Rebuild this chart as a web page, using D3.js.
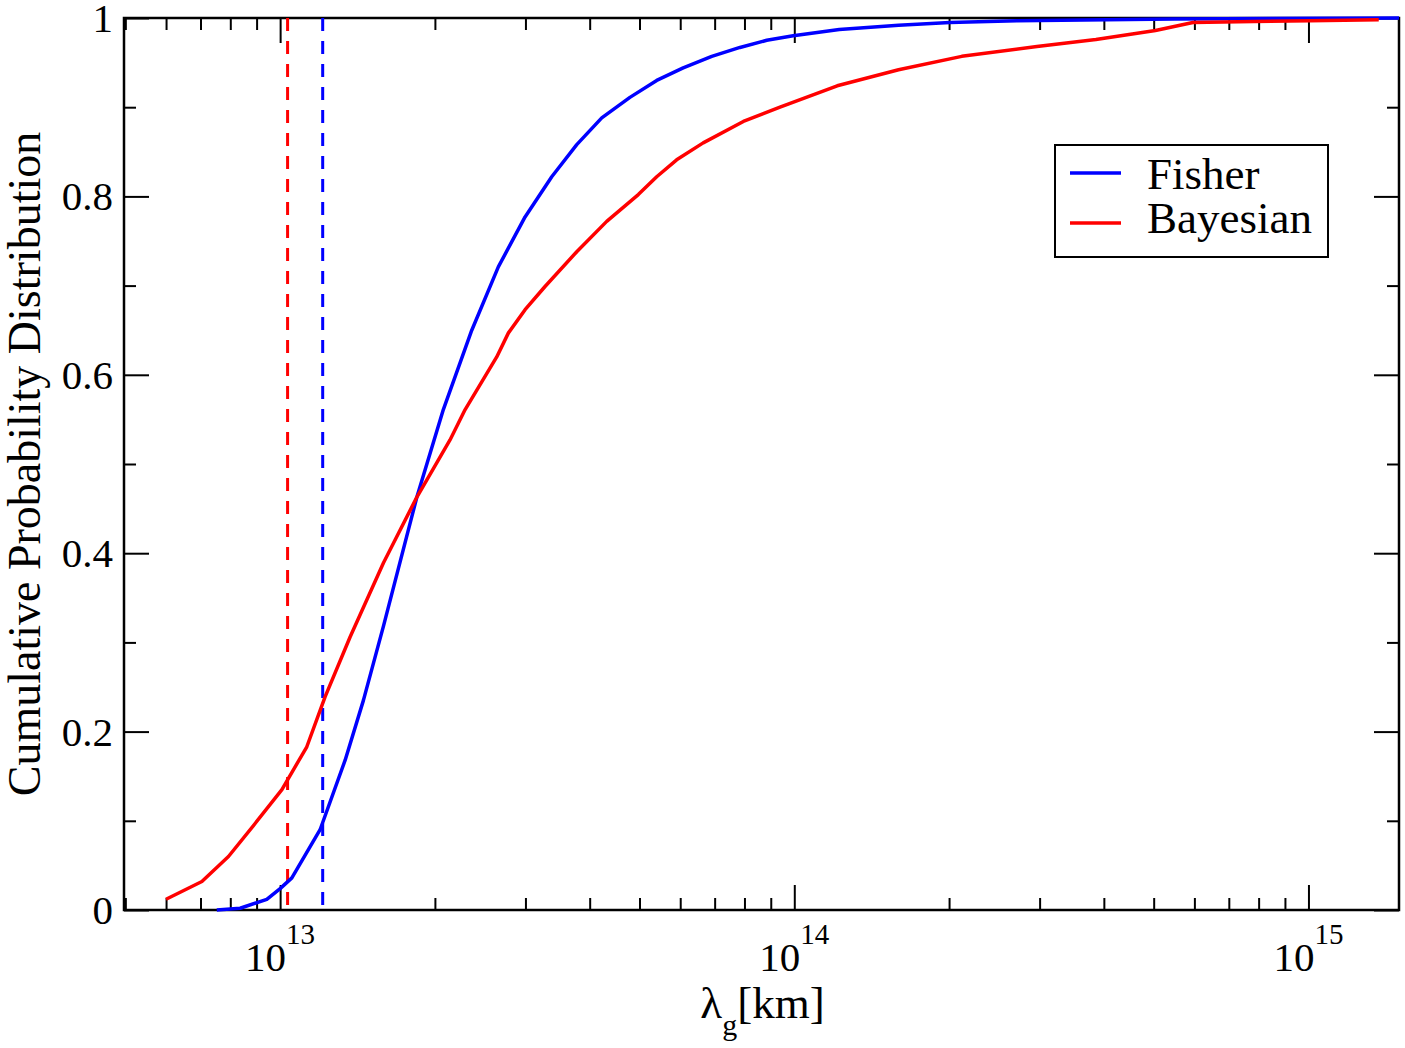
<!DOCTYPE html>
<html>
<head>
<meta charset="utf-8">
<script src="https://cdn.jsdelivr.net/npm/d3@7"></script>
<style>
  body { margin: 0; background: #fff; }
  svg { display: block; }
  text { font-family: "Liberation Serif", "Times New Roman", serif; fill: #000; }
</style>
</head>
<body>
<div id="chart"></div>
<script>
// Cumulative distributions of lambda_g (km)
const fisherX = [7.53e12, 8.36e12, 9.42e12, 1.0e13, 1.054e13, 1.196e13, 1.338e13, 1.452e13, 1.588e13,
  1.845e13, 2.077e13, 2.359e13, 2.657e13, 2.995e13, 3.375e13, 3.775e13, 4.222e13, 4.79e13, 5.4e13,
  6.08e13, 6.91e13, 7.84e13, 8.84e13, 9.95e13, 1.223e14, 1.595e14, 2.007e14, 2.71e14, 5.5e14, 1.5e15];
const fisherY = [0, 0.002, 0.012, 0.024, 0.036, 0.090, 0.168, 0.235, 0.318,
  0.463, 0.561, 0.650, 0.721, 0.777, 0.822, 0.858, 0.888, 0.911, 0.930,
  0.944, 0.957, 0.967, 0.975, 0.980, 0.987, 0.992, 0.995, 0.997, 0.999, 1.0];

const bayesX = [6.0e12, 7.045e12, 7.935e12, 8.94e12, 1.008e13, 1.127e13, 1.223e13, 1.368e13, 1.588e13,
  1.845e13, 2.14e13, 2.29e13, 2.638e13, 2.78e13, 2.995e13, 3.275e13, 3.775e13, 4.317e13, 4.973e13,
  5.4e13, 5.905e13, 6.65e13, 7.96e13, 9.38e13, 1.212e14, 1.595e14, 2.117e14, 2.964e14, 3.86e14,
  5.04e14, 5.96e14, 7.83e14, 1.006e15, 1.37e15];
const bayesY = [0.012, 0.032, 0.060, 0.097, 0.135, 0.183, 0.239, 0.306, 0.389,
  0.463, 0.527, 0.561, 0.620, 0.647, 0.673, 0.699, 0.738, 0.772, 0.802,
  0.822, 0.841, 0.860, 0.884, 0.900, 0.924, 0.942, 0.957, 0.968, 0.976,
  0.986, 0.995, 0.996, 0.997, 0.998];

// vertical bounds (dashed)
const fisherBound = 1.21e13;
const bayesBound = 1.034e13;

const xMajor = [1e13, 1e14, 1e15];
const xExponents = ['13', '14', '15'];
const yMajor = [0, 0.2, 0.4, 0.6, 0.8, 1];
const yLabels = ['0', '0.2', '0.4', '0.6', '0.8', '1'];
const yMinor = [0.1, 0.3, 0.5, 0.7, 0.9];

const seriesNames = ['Fisher', 'Bayesian'];
const seriesColors = ['#0000ff', '#ff0000'];

let svgwidth = 1405;
let svgheight = 1048;
let margin = { top: 18, right: 6, bottom: 138, left: 124 };
let inner_width = svgwidth - margin.left - margin.right;
let inner_height = svgheight - margin.top - margin.bottom;

let svg = d3.select('#chart').append('svg')
  .attr('width', svgwidth)
  .attr('height', svgheight);

let g = svg.append('g').attr('transform', `translate(${margin.left},${margin.top})`);

let xscale = d3.scaleLog().domain([4.97e12, 1.5e15]).range([0, inner_width]);
let yscale = d3.scaleLinear().domain([0, 1]).range([inner_height, 0]);

// minor log ticks 2..9 in every decade inside the domain
let xMinor = [];
[1e12, 1e13, 1e14].forEach(dec => {
  for (let k = 2; k <= 9; k++) {
    let v = k * dec;
    if (v > xscale.domain()[0] && v < xscale.domain()[1]) xMinor.push(v);
  }
});

function styleAxis(sel) {
  sel.select('.domain').remove();
  sel.selectAll('.tick line').attr('stroke', '#000').attr('stroke-width', 2);
  sel.selectAll('.tick text').remove();
}

// ticks pointing inward on all four sides
[[xMajor, 25], [xMinor, 12]].forEach(([vals, len]) => {
  g.append('g').attr('transform', `translate(0,${inner_height})`)
    .call(d3.axisBottom(xscale).tickValues(vals).tickSize(-len)).call(styleAxis);
  g.append('g')
    .call(d3.axisTop(xscale).tickValues(vals).tickSize(-len)).call(styleAxis);
});
[[yMajor, 25], [yMinor, 12]].forEach(([vals, len]) => {
  g.append('g')
    .call(d3.axisLeft(yscale).tickValues(vals).tickSize(-len)).call(styleAxis);
  g.append('g').attr('transform', `translate(${inner_width},0)`)
    .call(d3.axisRight(yscale).tickValues(vals).tickSize(-len)).call(styleAxis);
});

// frame
g.append('rect')
  .attr('width', inner_width)
  .attr('height', inner_height)
  .attr('fill', 'none')
  .attr('stroke', '#000')
  .attr('stroke-width', 2.5);

// y tick labels
g.selectAll('.ylab')
  .data(yMajor)
  .join('text')
  .attr('class', 'ylab')
  .attr('x', -11)
  .attr('y', d => yscale(d))
  .attr('dy', '0.34em')
  .attr('text-anchor', 'end')
  .attr('font-size', 41)
  .text((d, i) => yLabels[i]);

// x tick labels 10^n
let xl = g.selectAll('.xlab')
  .data(xMajor)
  .join('text')
  .attr('class', 'xlab')
  .attr('x', d => xscale(d))
  .attr('y', inner_height + 61)
  .attr('text-anchor', 'middle')
  .attr('font-size', 41);
xl.append('tspan').text('10');
xl.append('tspan').attr('dy', -27).attr('font-size', 29).text((d, i) => xExponents[i]);

// axis titles
let xt = g.append('text')
  .attr('x', inner_width / 2 + 1)
  .attr('y', inner_height + 108)
  .attr('text-anchor', 'middle')
  .attr('font-size', 45);
xt.append('tspan').text('λ');
xt.append('tspan').attr('dy', 17).attr('font-size', 30).text('g');
xt.append('tspan').attr('dy', -17).text('[km]');

svg.append('text')
  .attr('transform', `translate(40, ${margin.top + inner_height / 2}) rotate(-90)`)
  .attr('text-anchor', 'middle')
  .attr('font-size', 46)
  .text('Cumulative Probability Distribution');

// dashed bounds
[[fisherBound, seriesColors[0]], [bayesBound, seriesColors[1]]].forEach(([v, c]) => {
  g.append('line')
    .attr('x1', xscale(v)).attr('x2', xscale(v))
    .attr('y1', yscale(1)).attr('y2', yscale(0))
    .attr('stroke', c)
    .attr('stroke-width', 3)
    .attr('stroke-dasharray', '13,10');
});

// curves
let line = d3.line().x(d => xscale(d[0])).y(d => yscale(d[1]));
let series = [
  d3.zip(fisherX, fisherY),
  d3.zip(bayesX, bayesY)
];
series.forEach((s, i) => {
  g.append('path')
    .datum(s)
    .attr('d', line)
    .attr('fill', 'none')
    .attr('stroke', seriesColors[i])
    .attr('stroke-width', 3.5)
    .attr('stroke-linejoin', 'round');
});

// legend
let lg = svg.append('g').attr('transform', 'translate(1055,145)');
lg.append('rect')
  .attr('width', 273)
  .attr('height', 112)
  .attr('fill', '#fff')
  .attr('stroke', '#000')
  .attr('stroke-width', 2);
seriesNames.forEach((name, i) => {
  lg.append('line')
    .attr('x1', 15).attr('x2', 66)
    .attr('y1', 28 + i * 50).attr('y2', 28 + i * 50)
    .attr('stroke', seriesColors[i])
    .attr('stroke-width', 3.5);
  lg.append('text')
    .attr('x', 92)
    .attr('y', 44 + i * 44)
    .attr('font-size', 45)
    .text(name);
});
</script>
</body>
</html>
